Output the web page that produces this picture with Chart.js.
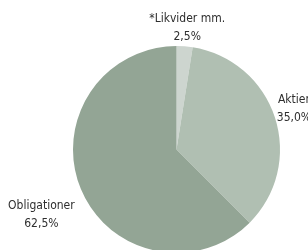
<!DOCTYPE html>
<html>
<head>
<meta charset="utf-8">
<script src="https://cdn.jsdelivr.net/npm/chart.js@4"></script>
<style>
  html, body { margin: 0; padding: 0; background: #fff; overflow: hidden; }
  #wrap { width: 308px; height: 254px; }
</style>
</head>
<body>
<div id="wrap"><canvas id="pie"></canvas></div>
<script>
const categories = ["*Likvider mm.", "Aktier", "Obligationer"];
const shares = [2.5, 35.0, 62.5];
const valueLabels = ["2,5%", "35,0%", "62,5%"];
const colors = ["#cdd5cf", "#b0bfb2", "#93a595"];

// labels sit outside each slice, along the slice's middle angle
const outsideLabels = {
  id: "outsideLabels",
  afterDatasetsDraw(chart, args, opts) {
    const ctx = chart.ctx;
    const arcs = chart.getDatasetMeta(0).data;
    ctx.save();
    ctx.font = opts.font;
    ctx.fillStyle = opts.color;
    ctx.textAlign = "center";
    ctx.textBaseline = "middle";
    arcs.forEach((arc, i) => {
      const mid = (arc.startAngle + arc.endAngle) / 2;
      const dist = arc.outerRadius + opts.gap[i];
      const x = arc.x + Math.cos(mid) * dist + opts.nudge[i][0];
      const y = arc.y + Math.sin(mid) * dist + opts.nudge[i][1];
      ctx.fillText(categories[i], x, y - opts.lineHeight / 2);
      ctx.fillText(valueLabels[i], x, y + opts.lineHeight / 2);
    });
    ctx.restore();
  }
};

new Chart(document.getElementById("pie"), {
  type: "pie",
  data: {
    labels: categories,
    datasets: [{
      data: shares,
      backgroundColor: colors,
      borderWidth: 0,
      hoverOffset: 0
    }]
  },
  options: {
    responsive: true,
    maintainAspectRatio: false,
    animation: false,
    layout: { padding: { left: 73, right: 28, top: 46, bottom: 1 } },
    plugins: {
      legend: { display: false },
      tooltip: { enabled: false },
      outsideLabels: {
        font: "12px 'DejaVu Sans Condensed', sans-serif",
        color: "#2e2e2e",
        lineHeight: 18,
        gap: [20, 20, 46],
        nudge: [[1, 1], [0, -2], [3, 8]]
      }
    }
  },
  plugins: [outsideLabels]
});
</script>
</body>
</html>
